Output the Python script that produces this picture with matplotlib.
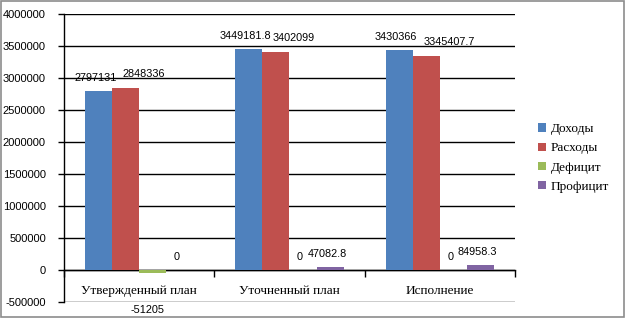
import numpy as np
import matplotlib.pyplot as plt
from matplotlib.patches import Rectangle

categories = ["Утвержденный план", "Уточненный план", "Исполнение"]
series_names = ["Доходы", "Расходы", "Дефицит", "Профицит"]
dohody = [2797131, 3449181.8, 3430366]
rashody = [2848336, 3402099, 3345407.7]
deficit = [-51205, 0, 0]
proficit = [0, 47082.8, 84958.3]
yticks = [-500000, 0, 500000, 1000000, 1500000, 2000000, 2500000, 3000000, 3500000, 4000000]

colors = ["#4F81BD", "#C0504D", "#9BBB59", "#8064A2"]
serif = "Liberation Serif"
sans = "Liberation Sans"


def fmt(v):
    # Excel-like general format
    if float(v).is_integer():
        return str(int(v))
    return str(v)


fig = plt.figure(figsize=(6.26, 3.19), dpi=100)
fig.patches.append(Rectangle((0.0015, 0.006), 0.995, 0.99, transform=fig.transFigure,
                             fill=False, edgecolor="#8c8c8c", lw=1.2))
ax = fig.add_axes([0.1022, 0.0533, 0.7205, 0.9028])

x = np.arange(len(categories)) + 0.5
w = 0.18
all_series = [dohody, rashody, deficit, proficit]
for i, vals in enumerate(all_series):
    ax.bar(x + (i - 1.5) * w, vals, w, color=colors[i], label=series_names[i], zorder=3)

# data labels (offsets in pixels -> points)
px = 0.72
for i, vals in enumerate(all_series):
    for j, v in enumerate(vals):
        xc = x[j] + (i - 1.5) * w
        if v < 0:
            ax.annotate(fmt(v), (xc, v), xytext=(-5 * px, -37 * px), textcoords="offset points",
                        ha="center", va="center", fontsize=7.8, family=sans, annotation_clip=False)
        elif i == 1:
            ax.annotate(fmt(v), (xc, v), xytext=(-3 * px, 14 * px), textcoords="offset points",
                        ha="left", va="center", fontsize=7.8, family=sans)
        else:
            ax.annotate(fmt(v), (xc, v), xytext=(-3 * px, 13 * px), textcoords="offset points",
                        ha="center", va="center", fontsize=7.8, family=sans)

ax.set_xlim(0, 3)
ax.set_ylim(-500000, 4000000)
ax.set_yticks(yticks)
ax.set_yticklabels([str(t) for t in yticks], family=sans, fontsize=8)
ax.tick_params(axis="y", length=4, width=1, pad=9, color="black")
ax.yaxis.grid(True, color="black", lw=1)
ax.set_axisbelow(True)

ax.spines["top"].set_visible(False)
ax.spines["right"].set_visible(False)
ax.spines["bottom"].set_position(("data", 0))
ax.spines["bottom"].set_linewidth(1)
ax.spines["left"].set_linewidth(1)

ax.set_xticks([0, 1, 2, 3])
ax.set_xticklabels([])
ax.tick_params(axis="x", which="major", direction="out", length=5, width=1)
ax.set_xticks(x, minor=True)
ax.set_xticklabels(categories, minor=True, family=serif, fontsize=9.5)
ax.tick_params(axis="x", which="minor", length=0, pad=11)

ax.legend(loc="center left", bbox_to_anchor=(1.025, 0.5), frameon=False,
          prop={"family": serif, "size": 9.5}, handlelength=0.6, handleheight=0.6,
          handletextpad=0.35, labelspacing=0.55)

fig.savefig("out.png", dpi=100)
